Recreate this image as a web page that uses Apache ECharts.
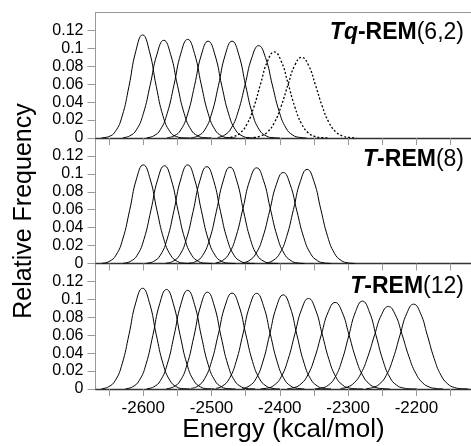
<!DOCTYPE html>
<html><head><meta charset="utf-8">
<script src="https://cdn.jsdelivr.net/npm/echarts@6/dist/echarts.min.js"></script>
<style>html,body{margin:0;padding:0;background:#fff}#c{width:471px;height:446px}</style>
</head><body><div id="c"></div>
<script>
// ---- tick values ----
const energyTicks = [-2650,-2600,-2550,-2500,-2450,-2400,-2350,-2300,-2250,-2200,-2150];
const energyLabels = [-2600,-2500,-2400,-2300,-2200];
const freqTicks = [0,0.02,0.04,0.06,0.08,0.1,0.12];
const panelLabels = [
  '{bi|Tq}{b|-REM}{n|(6,2)}',
  '{bi|T}{b|-REM}{n|(8)}',
  '{bi|T}{b|-REM}{n|(12)}'
];
// ---- Tq-REM(6,2): 6 solid + 2 dotted distributions, [energy, relative frequency] ----
const tqRem = [
 [[-2661,0.0002],[-2651,0.0015],[-2641,0.0072],[-2631,0.0243],[-2621,0.0576],[-2611,0.0967],[-2601,0.1150],[-2591,0.0967],[-2581,0.0576],[-2571,0.0243],[-2561,0.0072],[-2551,0.0015],[-2541,0.0002],[-2531,0]],
 [[-2630,0.0004],[-2620,0.0023],[-2610,0.0092],[-2600,0.0271],[-2590,0.0588],[-2580,0.0934],[-2570,0.1090],[-2560,0.0934],[-2550,0.0588],[-2540,0.0271],[-2530,0.0092],[-2520,0.0023],[-2510,0.0004],[-2500,0.0001]],
 [[-2595,0.0004],[-2585,0.0023],[-2575,0.0093],[-2565,0.0274],[-2555,0.0593],[-2545,0.0943],[-2535,0.1100],[-2525,0.0943],[-2515,0.0593],[-2505,0.0274],[-2495,0.0093],[-2485,0.0023],[-2475,0.0004],[-2465,0.0001]],
 [[-2565,0.0004],[-2555,0.0023],[-2545,0.0091],[-2535,0.0269],[-2525,0.0582],[-2515,0.0926],[-2505,0.1080],[-2495,0.0926],[-2485,0.0582],[-2475,0.0269],[-2465,0.0091],[-2455,0.0023],[-2445,0.0004],[-2435,0.0001]],
 [[-2530,0.0004],[-2520,0.0023],[-2510,0.0091],[-2500,0.0269],[-2490,0.0582],[-2480,0.0926],[-2470,0.1080],[-2460,0.0926],[-2450,0.0582],[-2440,0.0269],[-2430,0.0091],[-2420,0.0023],[-2410,0.0004],[-2400,0.0001]],
 [[-2491,0.0007],[-2481,0.0032],[-2471,0.0112],[-2461,0.0296],[-2451,0.0592],[-2441,0.0897],[-2431,0.1030],[-2421,0.0897],[-2411,0.0592],[-2401,0.0296],[-2391,0.0112],[-2381,0.0032],[-2371,0.0007],[-2361,0.0001]],
 [[-2478,0.0004],[-2468,0.0016],[-2458,0.0056],[-2448,0.0156],[-2438,0.0346],[-2428,0.0610],[-2418,0.0857],[-2408,0.0960],[-2398,0.0857],[-2388,0.0610],[-2378,0.0346],[-2368,0.0156],[-2358,0.0056],[-2348,0.0016],[-2338,0.0004],[-2328,0.0001]],
 [[-2438,0.0006],[-2428,0.0022],[-2418,0.0068],[-2408,0.0172],[-2398,0.0356],[-2388,0.0595],[-2378,0.0812],[-2368,0.0900],[-2358,0.0812],[-2348,0.0595],[-2338,0.0356],[-2328,0.0172],[-2318,0.0068],[-2308,0.0022],[-2298,0.0006],[-2288,0.0001]]
];
const tqDotted = [false,false,false,false,false,false,true,true];
// ---- T-REM(8) ----
const tRem8 = [
 [[-2660,0.0004],[-2650,0.0023],[-2640,0.0093],[-2630,0.0274],[-2620,0.0593],[-2610,0.0943],[-2600,0.1100],[-2590,0.0943],[-2580,0.0593],[-2570,0.0274],[-2560,0.0093],[-2550,0.0023],[-2540,0.0004],[-2530,0.0001]],
 [[-2629,0.0004],[-2619,0.0023],[-2609,0.0092],[-2599,0.0271],[-2589,0.0588],[-2579,0.0934],[-2569,0.1090],[-2559,0.0934],[-2549,0.0588],[-2539,0.0271],[-2529,0.0092],[-2519,0.0023],[-2509,0.0004],[-2499,0.0001]],
 [[-2595,0.0004],[-2585,0.0023],[-2575,0.0093],[-2565,0.0274],[-2555,0.0593],[-2545,0.0943],[-2535,0.1100],[-2525,0.0943],[-2515,0.0593],[-2505,0.0274],[-2495,0.0093],[-2485,0.0023],[-2475,0.0004],[-2465,0.0001]],
 [[-2567,0.0004],[-2557,0.0023],[-2547,0.0091],[-2537,0.0269],[-2527,0.0582],[-2517,0.0926],[-2507,0.1080],[-2497,0.0926],[-2487,0.0582],[-2477,0.0269],[-2467,0.0091],[-2457,0.0023],[-2447,0.0004],[-2437,0.0001]],
 [[-2533,0.0004],[-2523,0.0023],[-2513,0.0091],[-2503,0.0268],[-2493,0.0579],[-2483,0.0921],[-2473,0.1075],[-2463,0.0921],[-2453,0.0579],[-2443,0.0268],[-2433,0.0091],[-2423,0.0023],[-2413,0.0004],[-2403,0.0001]],
 [[-2494,0.0007],[-2484,0.0033],[-2474,0.0116],[-2464,0.0306],[-2454,0.0614],[-2444,0.0929],[-2434,0.1067],[-2424,0.0929],[-2414,0.0614],[-2404,0.0306],[-2394,0.0116],[-2384,0.0033],[-2374,0.0007],[-2364,0.0001]],
 [[-2455,0.0007],[-2445,0.0032],[-2435,0.0111],[-2425,0.0291],[-2415,0.0584],[-2405,0.0884],[-2395,0.1015],[-2385,0.0884],[-2375,0.0584],[-2365,0.0291],[-2355,0.0111],[-2345,0.0032],[-2335,0.0007],[-2325,0.0001]],
 [[-2420,0.0007],[-2410,0.0033],[-2400,0.0114],[-2390,0.0301],[-2380,0.0604],[-2370,0.0915],[-2360,0.1050],[-2350,0.0915],[-2340,0.0604],[-2330,0.0301],[-2320,0.0114],[-2310,0.0033],[-2300,0.0007],[-2290,0.0001]]
];
// ---- T-REM(12) ----
const tRem12 = [
 [[-2661,0.0004],[-2651,0.0024],[-2641,0.0095],[-2631,0.0280],[-2621,0.0606],[-2611,0.0963],[-2601,0.1124],[-2591,0.0963],[-2581,0.0606],[-2571,0.0280],[-2561,0.0095],[-2551,0.0024],[-2541,0.0004],[-2531,0.0001]],
 [[-2626,0.0004],[-2616,0.0023],[-2606,0.0094],[-2596,0.0276],[-2586,0.0598],[-2576,0.0951],[-2566,0.1110],[-2556,0.0951],[-2546,0.0598],[-2536,0.0276],[-2526,0.0094],[-2516,0.0023],[-2506,0.0004],[-2496,0.0001]],
 [[-2595,0.0004],[-2585,0.0023],[-2575,0.0093],[-2565,0.0274],[-2555,0.0593],[-2545,0.0943],[-2535,0.1100],[-2525,0.0943],[-2515,0.0593],[-2505,0.0274],[-2495,0.0093],[-2485,0.0023],[-2475,0.0004],[-2465,0.0001]],
 [[-2566,0.0004],[-2556,0.0023],[-2546,0.0091],[-2536,0.0269],[-2526,0.0582],[-2516,0.0926],[-2506,0.1080],[-2496,0.0926],[-2486,0.0582],[-2476,0.0269],[-2466,0.0091],[-2456,0.0023],[-2446,0.0004],[-2436,0.0001]],
 [[-2530,0.0007],[-2520,0.0033],[-2510,0.0117],[-2500,0.0307],[-2490,0.0615],[-2480,0.0932],[-2470,0.1070],[-2460,0.0932],[-2450,0.0615],[-2440,0.0307],[-2430,0.0117],[-2420,0.0033],[-2410,0.0007],[-2400,0.0001]],
 [[-2494,0.0007],[-2484,0.0033],[-2474,0.0116],[-2464,0.0306],[-2454,0.0614],[-2444,0.0929],[-2434,0.1067],[-2424,0.0929],[-2414,0.0614],[-2404,0.0306],[-2394,0.0116],[-2384,0.0033],[-2374,0.0007],[-2364,0.0001]],
 [[-2455,0.0007],[-2445,0.0033],[-2435,0.0114],[-2425,0.0301],[-2415,0.0604],[-2405,0.0915],[-2395,0.1050],[-2385,0.0915],[-2375,0.0604],[-2365,0.0301],[-2355,0.0114],[-2345,0.0033],[-2335,0.0007],[-2325,0.0001]],
 [[-2428,0.0002],[-2418,0.0011],[-2408,0.0044],[-2398,0.0136],[-2388,0.0328],[-2378,0.0613],[-2368,0.0891],[-2358,0.1010],[-2348,0.0891],[-2338,0.0613],[-2328,0.0328],[-2318,0.0136],[-2308,0.0044],[-2298,0.0011],[-2288,0.0002],[-2278,0]],
 [[-2389,0.0004],[-2379,0.0016],[-2369,0.0057],[-2359,0.0157],[-2349,0.0347],[-2339,0.0613],[-2329,0.0862],[-2319,0.0965],[-2309,0.0862],[-2299,0.0613],[-2289,0.0347],[-2279,0.0157],[-2269,0.0057],[-2259,0.0016],[-2249,0.0004],[-2239,0.0001]],
 [[-2349,0.0002],[-2339,0.0011],[-2329,0.0043],[-2319,0.0132],[-2309,0.0319],[-2299,0.0595],[-2289,0.0864],[-2279,0.0980],[-2269,0.0864],[-2259,0.0595],[-2249,0.0319],[-2239,0.0132],[-2229,0.0043],[-2219,0.0011],[-2209,0.0002],[-2199,0]],
 [[-2311,0.0006],[-2301,0.0022],[-2291,0.0070],[-2281,0.0176],[-2271,0.0363],[-2261,0.0608],[-2251,0.0830],[-2241,0.0920],[-2231,0.0830],[-2221,0.0608],[-2211,0.0363],[-2201,0.0176],[-2191,0.0070],[-2181,0.0022],[-2171,0.0006],[-2161,0.0001]],
 [[-2274,0.0004],[-2264,0.0016],[-2254,0.0056],[-2244,0.0154],[-2234,0.0341],[-2224,0.0601],[-2214,0.0845],[-2204,0.0946],[-2194,0.0845],[-2184,0.0601],[-2174,0.0341],[-2164,0.0154],[-2154,0.0056],[-2144,0.0016],[-2134,0.0004],[-2124,0.0001]]
];

// ---- build chart ----
const FONT = 'Liberation Sans, Arial, Helvetica, sans-serif';
const panels = [tqRem, tRem8, tRem12];
const gridTops = [12.5, 138, 263.5];
const gridH = 125.5;
const grids = gridTops.map(t => ({left: 95.5, top: t, width: 376, height: gridH}));
const xAxes = panels.map((_, i) => ({
  type: 'value', gridIndex: i, min: -2670, max: -2120, position: 'bottom',
  splitLine: {show: false},
  axisLine: {show: true, onZero: false, lineStyle: {color: '#333', width: 1.4}},
  axisTick: {show: true, inside: false, length: 7, customValues: energyTicks, lineStyle: {color: '#999', width: 1}},
  axisLabel: {show: i === 2, customValues: energyLabels, margin: 11, fontSize: 17, color: '#000', fontFamily: FONT,
    formatter: v => String(v)}
}));
xAxes.push({
  type: 'value', gridIndex: 0, min: -2670, max: -2120, position: 'top',
  splitLine: {show: false}, axisTick: {show: false}, axisLabel: {show: false},
  axisLine: {show: true, onZero: false, lineStyle: {color: '#999', width: 1}}
});
const yAxes = panels.map((_, i) => ({
  type: 'value', gridIndex: i, min: 0, max: 0.14,
  splitLine: {show: false},
  axisLine: {show: true, onZero: false, lineStyle: {color: '#999', width: 1}},
  axisTick: {show: true, inside: false, length: 8, customValues: freqTicks, lineStyle: {color: '#999', width: 1}},
  axisLabel: {customValues: freqTicks, margin: 12, fontSize: 16, color: '#000', fontFamily: FONT,
    formatter: v => String(Math.round(v * 100) / 100)}
}));
const series = [];
panels.forEach((curves, p) => {
  curves.forEach((c, k) => {
    const dotted = p === 0 && tqDotted[k];
    series.push({
      type: 'line', xAxisIndex: p, yAxisIndex: p, data: c, smooth: 0.5,
      showSymbol: false, silent: true, z: 3,
      lineStyle: {color: '#000', width: dotted ? 1.3 : 1, type: dotted ? [2, 2] : 'solid'}
    });
  });
});
const rich = {
  bi: {fontSize: 23, fontWeight: 'bold', fontStyle: 'italic', fontFamily: FONT, fill: '#000'},
  b: {fontSize: 23, fontWeight: 'bold', fontFamily: FONT, fill: '#000'},
  n: {fontSize: 23, fontFamily: FONT, fill: '#000'}
};
const labelY = [33, 159.5, 286.5];
const graphic = panelLabels.map((t, i) => ({
  type: 'text', x: 464, y: labelY[i], z: 10,
  style: {text: t, rich: rich, align: 'right', verticalAlign: 'middle', fill: '#000', font: '23px ' + FONT}
}));
graphic.push({
  type: 'text', x: 24, y: 211, rotation: Math.PI / 2, z: 10,
  style: {text: 'Relative Frequency', align: 'center', verticalAlign: 'middle', fill: '#000', font: '25px ' + FONT}
});
graphic.push({
  type: 'text', x: 283.5, y: 430, z: 10,
  style: {text: 'Energy (kcal/mol)', align: 'center', verticalAlign: 'middle', fill: '#000', font: '26px ' + FONT}
});
const chart = echarts.init(document.getElementById('c'), null, {renderer: 'canvas'});
chart.setOption({
  animation: false, backgroundColor: '#fff',
  grid: grids, xAxis: xAxes, yAxis: yAxes, series: series, graphic: graphic
});
</script></body></html>
